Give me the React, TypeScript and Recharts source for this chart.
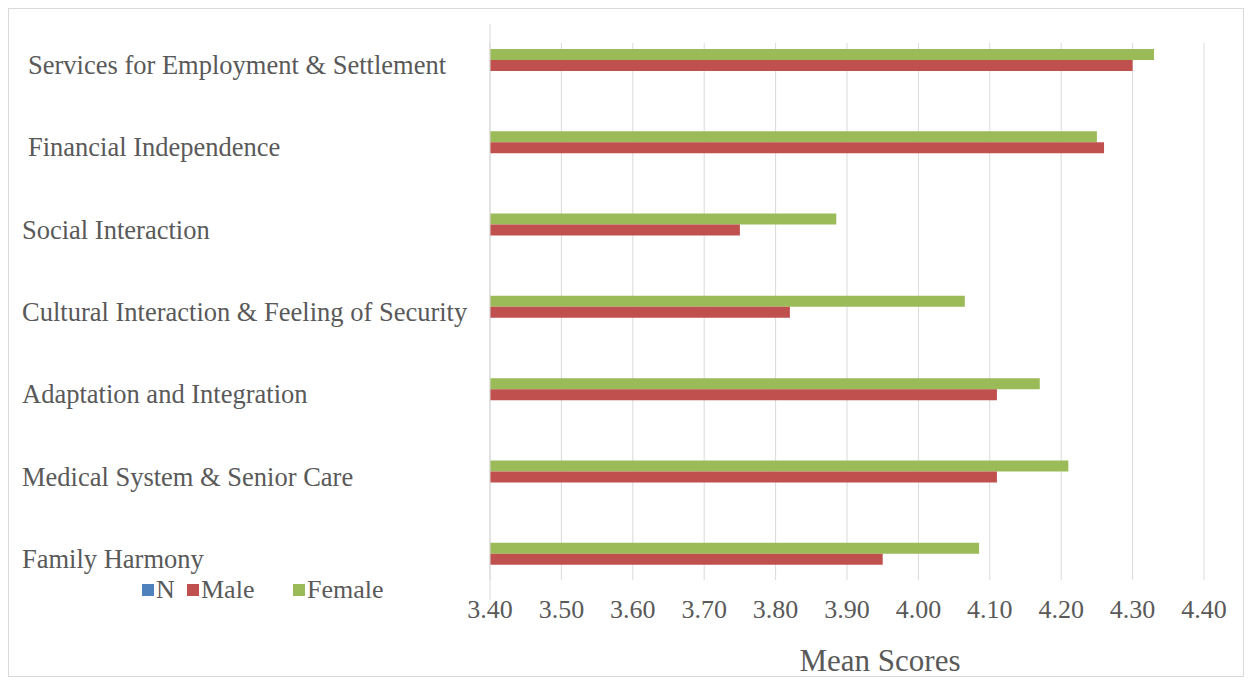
import React from 'react';
import { BarChart, Bar, XAxis, YAxis, CartesianGrid } from 'recharts';

const categories = [
  'Services for Employment & Settlement',
  'Financial Independence',
  'Social Interaction',
  'Cultural Interaction & Feeling of Security',
  'Adaptation and Integration',
  'Medical System & Senior Care',
  'Family Harmony',
];

const femaleScores = [4.33, 4.25, 3.885, 4.065, 4.17, 4.21, 4.085];
const maleScores = [4.3, 4.26, 3.75, 3.82, 4.11, 4.11, 3.95];
// N is in the legend but no bar of it shows on the 3.40 - 4.40 scale
const nValues: (number | null)[] = [null, null, null, null, null, null, null];

const xTicks = [3.4, 3.5, 3.6, 3.7, 3.8, 3.9, 4.0, 4.1, 4.2, 4.3, 4.4];

const seriesNames = ['N', 'Male', 'Female'];
const seriesColors = ['#4F81BD', '#C0504D', '#9BBB59'];

const data = categories.map((category, i) => ({
  category,
  Female: femaleScores[i],
  Male: maleScores[i],
  N: nValues[i],
}));

const TEXT = '#595959';
const FONT = '"Liberation Serif", "Times New Roman", serif';

const YTick = (props: any) => {
  const { y, payload, index } = props;
  return (
    <text
      x={index < 2 ? 19 : 13}
      y={y}
      textAnchor="start"
      dominantBaseline="central"
      fill={TEXT}
      fontSize={26.5}
      fontFamily={FONT}
    >
      {payload.value}
    </text>
  );
};

const XTitle = (props: any) => {
  const vb = props.viewBox;
  return (
    <text
      x={vb.x + vb.width / 2 + 33}
      y={vb.y + 60}
      textAnchor="middle"
      dominantBaseline="central"
      fill={TEXT}
      fontSize={31}
      fontFamily={FONT}
    >
      Mean Scores
    </text>
  );
};

// legend item lefts, px inside the frame
const legendLeft = [133, 178, 284];

export default function App() {
  return (
    <div
      style={{
        position: 'relative',
        width: 1234,
        height: 667,
        border: '1px solid #d9d9d9',
        background: '#fff',
        fontFamily: FONT,
      }}
    >
      <BarChart
        layout="vertical"
        width={1234}
        height={667}
        data={data}
        margin={{ top: 15, right: 39, bottom: 0, left: 0 }}
        barSize={11}
        barGap={0}
      >
        <CartesianGrid horizontal={false} stroke="#d9d9d9" y={34} height={537} />
        <XAxis
          type="number"
          domain={[3.4, 4.4]}
          ticks={xTicks}
          allowDataOverflow
          height={76}
          axisLine={false}
          tickLine={false}
          tickSize={0}
          tickMargin={0}
          tickFormatter={(v: number) => v.toFixed(2)}
          tick={{ fill: TEXT, fontSize: 26, fontFamily: FONT }}
          label={{ content: XTitle }}
        />
        <YAxis
          type="category"
          dataKey="category"
          width={481}
          interval={0}
          axisLine={{ stroke: '#d9d9d9' }}
          tickLine={false}
          tick={YTick}
        />
        <Bar dataKey="Female" fill={seriesColors[2]} isAnimationActive={false} />
        <Bar dataKey="Male" fill={seriesColors[1]} isAnimationActive={false} />
        <Bar dataKey="N" fill={seriesColors[0]} isAnimationActive={false} />
      </BarChart>
      {seriesNames.map((name, i) => (
        <div
          key={name}
          style={{
            position: 'absolute',
            left: legendLeft[i],
            top: 566,
            height: 30,
            display: 'flex',
            alignItems: 'center',
            color: TEXT,
            fontSize: 26,
            lineHeight: '30px',
          }}
        >
          <span
            style={{
              display: 'inline-block',
              width: 12,
              height: 12,
              background: seriesColors[i],
              marginRight: 2,
            }}
          />
          {name}
        </div>
      ))}
    </div>
  );
}
